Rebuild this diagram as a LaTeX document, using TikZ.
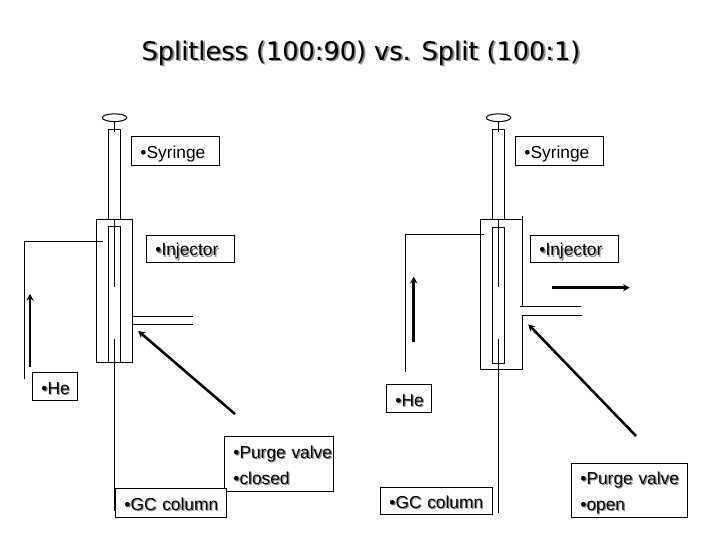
\documentclass[tikz,border=0pt]{standalone}
\usepackage{fontspec}
\usetikzlibrary{arrows.meta,shapes.geometric}
\setmainfont{Liberation Sans}
\newfontfamily\titlefont{DejaVu Sans}
\newcommand{\plain}[1]{\hspace*{6.5pt}\rule{0pt}{14pt}\mbox{#1}}
\newcommand{\shd}[1]{\hspace*{6.5pt}\rule[-3pt]{0pt}{17pt}\rlap{\textcolor{black!45}{\kern0.9pt\raisebox{-0.9pt}{#1}}}\mbox{#1}}
\newcommand{\tshd}[1]{\leavevmode\rlap{\textcolor{black!45}{\kern1.4pt\raisebox{-1.4pt}{#1}}}#1}
\tikzset{
  pipe/.style={draw=black,line width=0.75pt},
  thin pipe/.style={draw=black,line width=0.6pt},
  flow/.style={draw=black,line width=1.9pt,-{Stealth[length=5pt,width=5.5pt]}},
  lbl/.style={draw=black,fill=white,line width=0.75pt,inner xsep=0pt,inner ysep=0pt,align=left,
     font=\fontsize{13}{19.5}\selectfont,anchor=north west},
  w88/.style={minimum width=66pt,text width=66pt,minimum height=21.5pt},
  titletxt/.style={font=\titlefont\fontsize{19.2}{23}\selectfont,inner sep=0pt}
}
\begin{document}
\begin{tikzpicture}[x=0.75pt,y=-0.75pt]
\useasboundingbox[fill=white] (0,0) rectangle (720,540);
\node[titletxt,anchor=base] (title) at (361,60) {\tshd{Splitless (100:90) vs. Split (100:1)}};

% left assembly
\node[draw=black,line width=0.75pt,ellipse,minimum width=18.3pt,minimum height=5.8pt,inner sep=0pt] (Lcap) at (114.5,117.7) {};
\coordinate (Lrod) at (114.5,132);
\draw[thin pipe] (Lcap.south) -- (Lrod);
\draw[pipe] (108.5,219) -- (108.5,129.3) -- (120.5,129.3) -- (120.5,219);
\draw[pipe] (96.3,219) rectangle (132.3,362.3);
\draw[pipe] (108.5,362.3) -- (108.5,226.3) -- (120.5,226.3) -- (120.5,362.3);
\draw[thin pipe] (114.5,219) -- (114.5,286.7);
\draw[thin pipe] (114.5,339) -- (114.5,511);
\draw[pipe] (102.7,241.3) -- (24.3,241.3) -- (24.3,378.7);
\draw[pipe] (132.3,316) -- (193,316);
\draw[pipe] (132.3,324.3) -- (193,324.3);
\coordinate (Lhe0) at (30,366.7); \coordinate (Lhe1) at (30,294);
\draw[flow] (Lhe0) -- (Lhe1);
\coordinate (Lpv0) at (235,414); \coordinate (Lpv1) at (138.3,331);
\draw[flow] (Lpv0) -- (Lpv1);

% right assembly
\node[draw=black,line width=0.75pt,ellipse,minimum width=18.3pt,minimum height=5.8pt,inner sep=0pt] (Rcap) at (498.5,117.7) {};
\coordinate (Rrod) at (498.5,132);
\draw[thin pipe] (Rcap.south) -- (Rrod);
\draw[pipe] (492.3,219) -- (492.3,129.3) -- (504.3,129.3) -- (504.3,219);
\draw[pipe] (522.5,305.7) -- (522.5,216.3);
\draw[pipe] (522.5,219) -- (480.3,219) -- (480.3,369.3) -- (522.5,369.3) -- (522.5,315) -- (582,315);
\draw[pipe] (520,306.3) -- (581,306.3);
\draw[pipe] (492.3,227) rectangle (504.5,363.3);
\draw[thin pipe] (498.5,219) -- (498.5,286.7);
\draw[thin pipe] (498.5,339) -- (498.5,512.7);
\draw[pipe] (483.7,234.3) -- (405.5,234.3) -- (405.5,371.7);
\coordinate (Rhe0) at (413.7,342.3); \coordinate (Rhe1) at (413.7,276.7);
\draw[flow] (Rhe0) -- (Rhe1);
\coordinate (Rout0) at (552.3,287.7); \coordinate (Rout1) at (629.7,287.7);
\draw[flow] (Rout0) -- (Rout1);
\coordinate (Rpv0) at (636,436); \coordinate (Rpv1) at (528.3,324.3);
\draw[flow] (Rpv0) -- (Rpv1);

% labels
\node[lbl,w88] (Lsyr) at (131.3,136.3) {\plain{•Syringe}};
\node[lbl,w88,minimum height=20.7pt] (Linj) at (146.3,234.7) {\shd{•Injector}};
\node[lbl,minimum width=33.3pt,text width=33.3pt,minimum height=21pt] (Lhe) at (32.3,372.3) {\shd{•He}};
\node[lbl,minimum width=81.5pt,text width=81.5pt,minimum height=41.2pt] (Lpur) at (224.3,436.3) {\shd{•Purge valve}\\\shd{•closed}};
\node[lbl,minimum width=83.2pt,text width=83.2pt,minimum height=21.7pt] (Lgc) at (115.3,488.3) {\shd{•GC column}};

\node[lbl,w88] (Rsyr) at (515.3,136.3) {\plain{•Syringe}};
\node[lbl,w88,minimum height=20.7pt] (Rinj) at (530.3,234.7) {\shd{•Injector}};
\node[lbl,minimum width=33.3pt,text width=33.3pt,minimum height=21pt] (Rhe) at (386.3,384.3) {\shd{•He}};
\node[lbl,minimum width=83.5pt,text width=83.5pt,minimum height=20.7pt] (Rgc) at (380.3,486.7) {\shd{•GC column}};
\node[lbl,minimum width=87pt,text width=87pt,minimum height=41pt] (Rpur) at (571.3,462.7) {\shd{•Purge valve}\\\shd{•open}};
\end{tikzpicture}
\end{document}
